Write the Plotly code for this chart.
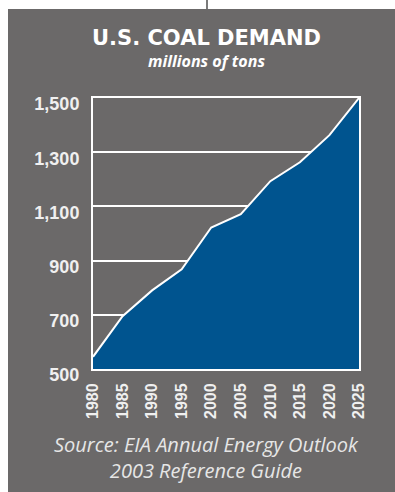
import plotly.graph_objects as go

years = [1980, 1985, 1990, 1995, 2000, 2005, 2010, 2015, 2020, 2025]
demand = [545, 695, 790, 868, 1022, 1071, 1193, 1263, 1363, 1500]
x_ticks = [1980, 1985, 1990, 1995, 2000, 2005, 2010, 2015, 2020, 2025]
y_ticks = [500, 700, 900, 1100, 1300, 1500]
y_tick_text = ["500", "700", "900", "1,100", "1,300", "1,500"]

title = "U.S. COAL DEMAND"
subtitle = "millions of tons"
source1 = "Source: EIA Annual Energy Outlook"
source2 = "2003 Reference Guide"

W, H = 395, 492
L, R, T, B = 93, 36, 98, 123
PW, PH = W - L - R, H - T - B

def px(x):
    return (x - L) / PW

def py(y):
    return 1 - (y - T) / PH

GRAY = "#6b6969"
BLUE = "#00548f"

fig = go.Figure()
fig.add_trace(go.Scatter(
    x=years, y=demand, mode="lines", fill="tozeroy",
    fillcolor=BLUE, line=dict(color="white", width=2),
    hoverinfo="skip", showlegend=False,
))

head_text = (
    "<span style='font-family:\"DejaVu Sans\";font-size:21px;font-weight:bold'>" + title + "</span>"
    "<br><span style='font-size:16px'><b><i>" + subtitle + "</i></b></span>"
)

fig.update_layout(
    width=W, height=H,
    margin=dict(l=L, r=R, t=T, b=B, pad=0),
    paper_bgcolor=GRAY, plot_bgcolor=GRAY,
    xaxis=dict(
        range=[1980, 2025], tickvals=x_ticks, tickangle=-90,
        showgrid=False, zeroline=False, ticks="",
        showline=True, mirror=True, linecolor="white", linewidth=2,
        tickfont=dict(family="Liberation Sans", size=16, color="#f0f0f0", weight="bold"),
        ticklabelstandoff=6,
    ),
    yaxis=dict(
        range=[500, 1500], tickvals=y_ticks, ticktext=y_tick_text,
        showgrid=True, gridcolor="white", gridwidth=2, zeroline=False, ticks="",
        showline=True, mirror=True, linecolor="white", linewidth=2,
        tickfont=dict(family="Liberation Sans", size=18, color="#f0f0f0", weight="bold"),
        ticklabelshift=6, ticklabelstandoff=8,
    ),
    shapes=[
        dict(type="rect", xref="paper", yref="paper", x0=px(0), x1=px(W), y0=py(0), y1=py(9),
             fillcolor="white", line=dict(width=0), layer="above"),
        dict(type="rect", xref="paper", yref="paper", x0=px(0), x1=px(8), y0=py(0), y1=py(H),
             fillcolor="white", line=dict(width=0), layer="above"),
        dict(type="line", xref="paper", yref="paper", x0=px(207), x1=px(207), y0=py(0), y1=py(9),
             line=dict(color="#7a7a7a", width=2), layer="above"),
    ],
    annotations=[
        dict(text=head_text, xref="paper", yref="paper", x=px(206.5), y=py(24), showarrow=False,
             xanchor="center", yanchor="top", align="center",
             font=dict(family="Open Sans", size=17, color="white")),
        dict(text=source1 + "<br>" + source2, xref="paper", yref="paper", x=px(206), y=py(457),
             showarrow=False, xanchor="center", yanchor="middle", align="center",
             font=dict(family="Open Sans", size=20, color="#e6e6e6", style="italic")),
    ],
)

fig.write_html("out.html")
